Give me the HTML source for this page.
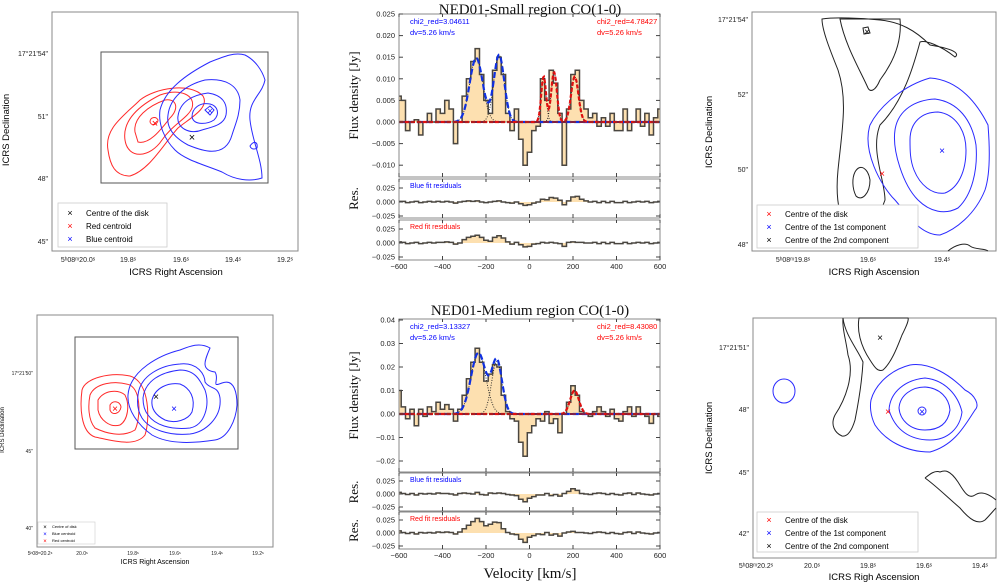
<!DOCTYPE html>
<html><head><meta charset="utf-8"><style>
body{margin:0;background:#fff;}
svg{display:block;font-family:"Liberation Sans",sans-serif;}
.serif{font-family:"Liberation Serif",serif;}
</style></head><body>
<svg id="fig" width="1000" height="582" viewBox="0 0 1000 582" xmlns="http://www.w3.org/2000/svg">
<!-- ===== Top-left map ===== -->
<g>
<rect x="52" y="12" width="246" height="239" fill="none" stroke="#888" stroke-width="1"/>
<rect x="101" y="52" width="167" height="131" fill="none" stroke="#555" stroke-width="1"/>
<g fill="none" stroke="#ff2a2a" stroke-width="1">
<path d="M108,150 C104,128 125,115 140,100 C155,88 190,82 203,96 C210,108 190,118 178,128 C165,142 150,170 130,176 C115,176 110,165 108,150Z"/>
<path d="M125,140 C122,120 140,105 160,95 C180,88 196,95 192,108 C188,118 172,125 162,140 C150,158 128,160 125,140Z"/>
<path d="M135,132 C133,118 148,106 165,100 C176,98 180,108 170,118 C162,128 150,145 138,142Z"/>
<path d="M150,122 C150,117 156,116 158,120 C158,124 152,127 150,122Z"/>
</g>
<g fill="none" stroke="#2a2aff" stroke-width="1">
<path d="M160,110 C165,90 185,75 210,62 C225,56 235,52 245,55 C255,60 262,70 265,80 C262,95 248,100 250,120 C252,140 262,160 262,178 C250,182 235,180 222,172 C205,165 185,160 175,150 C165,140 158,125 160,110Z"/>
<path d="M168,115 C170,98 185,85 205,80 C225,78 238,85 240,100 C240,115 235,125 232,135 C225,160 200,150 188,145 C175,138 166,128 168,115Z"/>
<path d="M178,116 C180,102 192,95 208,93 C222,95 228,103 226,115 C224,125 212,127 202,130 C190,135 176,128 178,116Z"/>
<path d="M192,117 C192,108 200,102 210,104 C218,106 220,114 214,120 C208,124 194,126 192,117Z"/>
<path d="M205,110 L210,106 L214,110 L210,115Z"/>
<path d="M250,146 C254,140 258,142 257,148 C254,150 251,149 250,146Z"/>
</g>
<text x="192" y="141" font-size="11" text-anchor="middle">×</text>
<text x="155" y="127" font-size="11" fill="#f00" text-anchor="middle">×</text>
<text x="210" y="114" font-size="9" fill="#00f" text-anchor="middle">×</text>
<g font-size="7" fill="#222">
<text x="48" y="56" text-anchor="end">17°21'54"</text><text x="48" y="119" text-anchor="end">51"</text>
<text x="48" y="181" text-anchor="end">48"</text><text x="48" y="244" text-anchor="end">45"</text></g>
<g font-size="7" fill="#222" text-anchor="middle">
<text x="78" y="262">5ʰ08ᵐ20.0ˢ</text><text x="128" y="262">19.8ˢ</text><text x="181" y="262">19.6ˢ</text><text x="233" y="262">19.4ˢ</text><text x="285" y="262">19.2ˢ</text></g>
<text x="176" y="275" font-size="9.5" text-anchor="middle">ICRS Right Ascension</text>
<text transform="translate(9,130) rotate(-90)" font-size="9.5" text-anchor="middle">ICRS Declination</text>
<g>
<rect x="58" y="203" width="109" height="44" fill="#fff" stroke="#ccc" stroke-width="0.8"/>
<text x="70" y="216" font-size="9" text-anchor="middle">×</text><text x="86" y="216" font-size="8">Centre of the disk</text>
<text x="70" y="229" font-size="9" fill="#f00" text-anchor="middle">×</text><text x="86" y="229" font-size="8">Red centroid</text>
<text x="70" y="242" font-size="9" fill="#00f" text-anchor="middle">×</text><text x="86" y="242" font-size="8">Blue centroid</text>
</g>
</g>

<!-- ===== Bottom-left map ===== -->
<g>
<rect x="37" y="315" width="236" height="232" fill="none" stroke="#888" stroke-width="1"/>
<rect x="75" y="337" width="163" height="112" fill="none" stroke="#555" stroke-width="1"/>
<g fill="none" stroke="#ff2a2a" stroke-width="1">
<path d="M82,390 C85,378 110,372 130,376 C150,382 150,420 145,435 C135,448 110,440 95,437 C80,432 80,405 82,390Z"/>
<path d="M90,395 C95,383 115,380 130,385 C142,392 140,420 135,430 C122,438 105,433 95,428 C88,420 88,405 90,395Z"/>
<path d="M98,400 C104,390 118,389 125,395 C130,405 128,420 120,425 C110,428 100,420 98,410Z"/>
<path d="M110,405 C113,400 120,401 121,407 C120,414 112,416 110,410Z"/>
</g>
<g fill="none" stroke="#2a2aff" stroke-width="1">
<path d="M128,395 C130,370 160,355 180,350 C190,346 200,342 210,348 C205,360 200,370 215,372 C220,380 210,388 222,383 C235,378 237,395 237,405 C236,420 228,438 215,440 C195,443 170,445 152,435 C138,425 127,410 128,395Z"/>
<path d="M138,395 C140,375 162,365 180,364 C198,362 205,375 205,382 C210,390 218,385 220,398 C222,418 205,432 190,434 C170,436 150,430 142,418 C137,410 137,402 138,395Z"/>
<path d="M143,398 C145,380 162,372 180,370 C195,370 200,380 205,390 C210,405 205,425 190,428 C170,430 155,425 148,415 C144,410 143,404 143,398Z"/>
<path d="M152,400 C155,388 168,382 180,384 C190,388 196,398 192,412 C188,420 175,424 165,420 C155,415 151,408 152,400Z"/>
</g>
<text x="156" y="400" font-size="10" text-anchor="middle">×</text>
<text x="115" y="412" font-size="10" fill="#f00" text-anchor="middle">×</text>
<text x="174" y="412" font-size="10" fill="#00f" text-anchor="middle">×</text>
<g font-size="5" fill="#222">
<text x="33" y="375" text-anchor="end">17°21'50"</text><text x="33" y="453" text-anchor="end">45"</text><text x="33" y="530" text-anchor="end">40"</text></g>
<g font-size="5" fill="#222" text-anchor="middle">
<text x="40" y="555">5ʰ08ᵐ20.2ˢ</text><text x="82" y="555">20.0ˢ</text><text x="133" y="555">19.8ˢ</text><text x="175" y="555">19.6ˢ</text><text x="217" y="555">19.4ˢ</text><text x="258" y="555">19.2ˢ</text></g>
<text x="155" y="564" font-size="7" text-anchor="middle">ICRS Right Ascension</text>
<text transform="translate(4,430) rotate(-90)" font-size="6" text-anchor="middle">ICRS Declination</text>
<g>
<rect x="38" y="522" width="57" height="22" fill="#fff" stroke="#ccc" stroke-width="0.6"/>
<text x="45" y="529" font-size="6" text-anchor="middle">×</text><text x="52" y="528" font-size="4">Centre of disk</text>
<text x="45" y="536" font-size="6" fill="#00f" text-anchor="middle">×</text><text x="52" y="535" font-size="4">Blue centroid</text>
<text x="45" y="543" font-size="6" fill="#f00" text-anchor="middle">×</text><text x="52" y="542" font-size="4">Red centroid</text>
</g>
</g>

<!-- ===== Top-right map ===== -->
<g>
<rect x="752" y="12" width="244" height="239" fill="none" stroke="#888" stroke-width="1"/>
<g fill="none" stroke="#222" stroke-width="1">
<path d="M822,19 C835,17 860,18 880,20 C900,22 915,30 930,45 C960,50 958,55 955,57 C940,45 925,40 920,42 C915,60 905,100 880,125 C870,150 885,180 885,200 C880,215 870,230 855,232 C840,230 835,200 838,170 C842,130 848,100 838,70 C830,50 822,30 822,19Z"/>
<path d="M840,19 L900,19 C902,40 895,60 880,80 C875,92 870,92 868,88 C860,70 845,45 840,19Z"/>
<path d="M863,28 L868,27 L870,33 L864,34Z"/>
<path d="M855,172 C860,163 868,168 870,180 C870,193 862,202 856,196 C852,188 852,178 855,172Z"/>
<path d="M948,251 C955,245 965,242 970,246 C975,250 985,248 988,251"/>
</g>
<g fill="none" stroke="#2a2aff" stroke-width="1">
<path d="M870,125 C880,105 905,85 930,78 C960,80 978,105 988,125 C990,150 990,175 985,190 C975,215 955,230 940,235 C920,235 908,215 895,200 C880,185 862,150 870,125Z"/>
<path d="M895,130 C898,110 915,100 935,99 C958,102 972,120 976,145 C978,170 972,195 958,208 C945,215 930,212 918,200 C903,185 892,150 895,130Z"/>
<path d="M910,140 C910,122 922,112 938,112 C955,114 966,130 966,150 C966,172 958,188 945,193 C932,195 920,185 914,170 C910,160 910,150 910,140Z"/>
</g>
<text x="882" y="177" font-size="10" fill="#f00" text-anchor="middle">×</text>
<text x="942" y="154" font-size="10" fill="#00f" text-anchor="middle">×</text>
<text x="867" y="35" font-size="10" text-anchor="middle">×</text>
<g font-size="7" fill="#222">
<text x="748" y="22" text-anchor="end">17°21'54"</text><text x="748" y="97" text-anchor="end">52"</text>
<text x="748" y="172" text-anchor="end">50"</text><text x="748" y="247" text-anchor="end">48"</text></g>
<g font-size="7" fill="#222" text-anchor="middle">
<text x="793" y="262">5ʰ08ᵐ19.8ˢ</text><text x="868" y="262">19.6ˢ</text><text x="942" y="262">19.4ˢ</text></g>
<text x="874" y="275" font-size="9.5" text-anchor="middle">ICRS Righ Ascension</text>
<text transform="translate(712,132) rotate(-90)" font-size="9.5" text-anchor="middle">ICRS Declination</text>
<g>
<rect x="757" y="205" width="161" height="43" fill="#fff" stroke="#ccc" stroke-width="0.8"/>
<text x="769" y="217" font-size="9" fill="#f00" text-anchor="middle">×</text><text x="785" y="217" font-size="8">Centre of the disk</text>
<text x="769" y="230" font-size="9" fill="#00f" text-anchor="middle">×</text><text x="785" y="230" font-size="8">Centre of the 1st component</text>
<text x="769" y="243" font-size="9" text-anchor="middle">×</text><text x="785" y="243" font-size="8">Centre of the 2nd component</text>
</g>
</g>

<!-- ===== Bottom-right map ===== -->
<g>
<rect x="753" y="318" width="243" height="240" fill="none" stroke="#888" stroke-width="1"/>
<g fill="none" stroke="#222" stroke-width="1">
<path d="M843,318 C845,335 858,350 863,362 C862,380 858,405 855,420 C852,430 848,437 842,436 C835,433 830,425 835,415 C845,400 855,375 848,355 C846,340 842,328 843,318Z"/>
<path d="M859,318 C857,330 860,345 870,360 C875,368 878,372 883,370 C892,362 898,345 902,335 C907,325 909,320 908,318Z"/>
<path d="M925,478 C930,474 935,470 940,472 C945,470 950,470 958,482 C963,490 968,500 975,495 C982,490 990,495 996,500 M925,478 C935,485 945,495 960,508 C970,520 978,525 985,520 C990,515 994,510 996,508"/>
</g>
<g fill="none" stroke="#2a2aff" stroke-width="1">
<path d="M871,400 C875,385 890,370 910,365 C930,362 950,375 965,390 C975,395 980,405 975,410 C965,425 955,445 930,452 C905,452 885,440 875,425 C870,415 870,405 871,400Z"/>
<path d="M889,410 C890,392 905,380 925,378 C945,380 958,395 962,412 C960,428 948,440 930,440 C910,440 895,430 889,410Z"/>
<path d="M899,408 C900,395 912,387 925,387 C940,388 949,398 950,410 C948,423 940,430 925,430 C910,430 900,420 899,408Z"/>
<circle cx="922" cy="411" r="4"/>
<ellipse cx="784" cy="391" rx="11" ry="12"/>
</g>
<text x="888" y="415" font-size="10" fill="#f00" text-anchor="middle">×</text>
<text x="922" y="415" font-size="10" fill="#00f" text-anchor="middle">×</text>
<text x="880" y="341" font-size="10" text-anchor="middle">×</text>
<g font-size="7" fill="#222">
<text x="749" y="350" text-anchor="end">17°21'51"</text><text x="749" y="412" text-anchor="end">48"</text>
<text x="749" y="475" text-anchor="end">45"</text><text x="749" y="536" text-anchor="end">42"</text></g>
<g font-size="7" fill="#222" text-anchor="middle">
<text x="756" y="568">5ʰ08ᵐ20.2ˢ</text><text x="812" y="568">20.0ˢ</text><text x="868" y="568">19.8ˢ</text><text x="924" y="568">19.6ˢ</text><text x="980" y="568">19.4ˢ</text></g>
<text x="874" y="580" font-size="9.5" text-anchor="middle">ICRS Righ Ascension</text>
<text transform="translate(712,438) rotate(-90)" font-size="9.5" text-anchor="middle">ICRS Declination</text>
<g>
<rect x="757" y="512" width="161" height="40" fill="#fff" stroke="#ccc" stroke-width="0.8"/>
<text x="769" y="523" font-size="9" fill="#f00" text-anchor="middle">×</text><text x="785" y="523" font-size="8">Centre of the disk</text>
<text x="769" y="536" font-size="9" fill="#00f" text-anchor="middle">×</text><text x="785" y="536" font-size="8">Centre of the 1st component</text>
<text x="769" y="549" font-size="9" text-anchor="middle">×</text><text x="785" y="549" font-size="8">Centre of the 2nd component</text>
</g>
</g>
</svg>
<script>
// velocity grid: -600..600 step 20 km/s (61 bins); flux values in mJy
const velStart = -600, velStep = 20;
const smallFlux = [6,5,-2,0,0.5,-3,0,2,0,3,2,5,3,-5,0,6,10,14,17,11,5,2,12,15,11,2,-2,3,-4,-10,-7,-2,-1,10,5,12,9,2,-10,3,11,12,5,3,1,2,-1,1,-1,2,-2,-2,3,-2,0,3,-1,2,-3,1,3];
const smallBlueRes = [1,1,-1,0,1,-1,0,1,0,1,0,1,0,-2,0,1,2,1,2,0,-1,0,1,2,0,-1,-2,0,-3,-6,-5,-2,0,5,4,8,7,3,-5,2,9,10,5,2,0,1,-1,1,-1,1,-1,-1,1,-1,0,1,0,1,-1,0,1];
const smallRedRes = [2,1,-1,0,1,-1,0,1,0,1,1,2,1,-2,0,6,10,12,14,10,5,3,10,13,9,2,-2,1,-3,-7,-6,-2,-1,1,0,1,0,-1,-6,1,2,1,1,0,0,1,-1,1,-1,1,-1,-1,1,-1,0,1,0,1,-1,0,1];
const medFlux = [10,3,-2,2,-5,2,-1,3,1,5,2,4,2,-3,2,8,15,22,28,22,14,17,21,20,8,1,-2,-3,-12,-18,-8,-5,-2,-3,1,-4,-2,-8,0,5,12,8,1,0,-1,1,3,1,-1,2,-2,-3,1,3,-1,3,0,-1,-4,0,-1];
const medBlueRes = [3,1,-1,1,-2,1,0,1,0,2,1,1,0,-2,1,2,1,0,3,-1,-2,2,1,2,1,-1,-2,-3,-10,-15,-8,-5,-2,-2,1,-3,-1,-4,1,5,10,7,1,0,-1,1,2,1,-1,1,-1,-2,1,2,-1,2,0,-1,-2,0,1];
const medRedRes = [4,1,-1,1,-2,1,0,1,0,2,1,2,1,-2,2,8,15,22,28,22,14,17,21,20,8,1,-2,-3,-12,-18,-8,-5,-2,-3,1,-4,-2,-6,0,2,3,1,1,0,-1,1,2,1,-1,1,-1,-2,1,2,-1,2,0,-1,-2,0,1];
// Gaussian fit components: amplitude (mJy), centre (km/s), sigma (km/s)
const smallBlueAmp = [14.8,15.5], smallBlueCen = [-245,-140], smallBlueSig = [30,24];
const smallRedAmp = [10.5,11.5,10.5], smallRedCen = [65,113,208], smallRedSig = [11,13,17];
const medBlueAmp = [26,22.5], medBlueCen = [-235,-150], medBlueSig = [34,24];
const medRedAmp = [10], medRedCen = [207], medRedSig = [20];
const velTicks = [-600,-400,-200,0,200,400,600];
const smallFluxTicks = [-0.010,-0.005,0.000,0.005,0.010,0.015,0.020,0.025];
const medFluxTicks = [-0.02,-0.01,0.00,0.01,0.02,0.03,0.04];
const resTicks = [-0.025,0.000,0.025];

const NS="http://www.w3.org/2000/svg";
const svg=document.getElementById('fig');
function mk(tag,attrs,parent){const e=document.createElementNS(NS,tag);for(const k in attrs)e.setAttribute(k,attrs[k]);(parent||svg).appendChild(e);return e;}
const X0=399,X1=660;
function xv(v){return X0+(v+600)*(X1-X0)/1200;}
function gauss(a,c,s,v){let y=0;for(let i=0;i<a.length;i++)y+=a[i]*Math.exp(-0.5*Math.pow((v-c[i])/s[i],2));return y;}

function stepPath(vals,ymap){let d='';for(let i=0;i<vals.length;i++){const vc=velStart+i*velStep;const xa=xv(Math.max(-600,vc-velStep/2)),xb=xv(Math.min(600,vc+velStep/2));const y=ymap(vals[i]/1000);d+=(i===0?'M':'L')+xa.toFixed(1)+','+y.toFixed(1)+'L'+xb.toFixed(1)+','+y.toFixed(1);}return d;}

function axes(g,top,bot,ymap,ticks,fmt,showX){
  const f=mk('rect',{x:X0,y:top,width:X1-X0,height:bot-top,fill:'none',stroke:'#888','stroke-width':1},g);
  
  
  ticks.forEach(t=>{const y=ymap(t);
    mk('line',{x1:X0,x2:X0+4,y1:y,y2:y,stroke:'#444'},g);mk('line',{x1:X1-4,x2:X1,y1:y,y2:y,stroke:'#444'},g);
    const tx=mk('text',{x:X0-4,y:y+2.5,'font-size':7.5,'text-anchor':'end',fill:'#222'},g);tx.textContent=fmt(t);
    
    
  });
  velTicks.forEach(v=>{const x=xv(v);mk('line',{x1:x,x2:x,y1:bot-4,y2:bot,stroke:'#444'},g);mk('line',{x1:x,x2:x,y1:top,y2:top+3,stroke:'#444'},g);
    if(showX){const tx=mk('text',{x:x,y:bot+9,'font-size':7.5,'text-anchor':'middle',fill:'#222'},g);tx.textContent=(v<0?'\u2212'+(-v):v);
      
      }
  });
}
function spectrum(g,vals,ymap,name){
  const d=stepPath(vals,ymap);const y0=ymap(0);
  const fill=mk('path',{d:d+'L'+X1+','+y0+'L'+X0+','+y0+'Z',fill:'#fde0b0',stroke:'none'},g);
  
  
  const ln=mk('path',{d:d,fill:'none',stroke:'#4a4640','stroke-width':1.5},g);
  
  
}
function fitLine(g,amp,cen,sig,ymap,color,dash,w,name){
  let d='';for(let v=-600;v<=600;v+=3){d+=(v===-600?'M':'L')+xv(v).toFixed(1)+','+ymap(gauss(amp,cen,sig,v)/1000).toFixed(1);}
  const p=mk('path',{d:d,fill:'none',stroke:color,'stroke-width':w,'stroke-dasharray':dash},g);
  
  
}
function label(g,x,y,txt,size,color,name,cls,rot){
  const t=mk('text',{x:x,y:y,'font-size':size,fill:color},g);
  if(cls)t.setAttribute('class',cls);
  if(rot){t.setAttribute('transform','rotate(-90 '+x+' '+y+')');t.setAttribute('text-anchor','middle');}
  t.textContent=txt;
  
  
  return t;
}
function panel(cfg){
  const g=mk('g',{});
  
  
  const ym=v=>cfg.mz-v*cfg.ms, r1=v=>cfg.r1z-v*cfg.rs, r2=v=>cfg.r2z-v*cfg.rs;
  spectrum(g,cfg.flux,ym,'spectrum');
  mk('line',{x1:X0,x2:X1,y1:ym(0),y2:ym(0),stroke:'#1a1aa0','stroke-width':2,'stroke-dasharray':'6,3'},g);
  [[cfg.bA,cfg.bC,cfg.bS],[cfg.rA,cfg.rC,cfg.rS]].forEach(s=>{for(let i=0;i<s[0].length;i++)fitLine(g,[s[0][i]],[s[1][i]],[s[2][i]],ym,'#222','1,1.5',0.9,'fit-component');});
  fitLine(g,cfg.bA,cfg.bC,cfg.bS,ym,'#1030e0','6,3',2.2,'blue-fit');
  fitLine(g,cfg.rA,cfg.rC,cfg.rS,ym,'#e01010','4,2',2.2,'red-fit');
  const zl=mk('line',{x1:X0,x2:X1,y1:ym(0),y2:ym(0),stroke:'#a02020','stroke-width':1.6,'stroke-dasharray':'6,3'},g);
  
  
  axes(g,cfg.mt,cfg.mb,ym,cfg.ticks,cfg.fmt,false);
  spectrum(g,cfg.br,r1,'blue-residuals');
  axes(g,cfg.r1t,cfg.r1b,r1,resTicks,t=>t===0?'0.000':(t<0?'\u22120.025':'0.025'),false);
  spectrum(g,cfg.rr,r2,'red-residuals');
  axes(g,cfg.r2t,cfg.r2b,r2,resTicks,t=>t===0?'0.000':(t<0?'\u22120.025':'0.025'),true);
  label(g,410,cfg.mt+10,cfg.bchi,7.5,'#0000ff','blue-chi2-label');
  label(g,410,cfg.mt+21,'dv=5.26 km/s',7.5,'#0000ff','blue-dv-label');
  label(g,597,cfg.mt+10,cfg.rchi,7.5,'#ff0000','red-chi2-label');
  label(g,597,cfg.mt+21,'dv=5.26 km/s',7.5,'#ff0000','red-dv-label');
  label(g,410,cfg.r1t+9,'Blue fit residuals',7,'#0000ff','blue-residuals-label');
  label(g,410,cfg.r2t+9,'Red fit residuals',7,'#ff0000','red-residuals-label');
  const tt=label(g,530,cfg.ty,cfg.title,15,'#111','chart-title','serif');tt.setAttribute('text-anchor','middle');
  label(g,358,(cfg.mt+cfg.mb)/2,'Flux density [Jy]',13,'#111','y-axis-title','serif',true);
  label(g,358,(cfg.r1t+cfg.r1b)/2,'Res.',13,'#111','residual-axis-title','serif',true);
  if(cfg.res2lab)label(g,358,(cfg.r2t+cfg.r2b)/2,'Res.',13,'#111','residual-axis-title','serif',true);
  if(cfg.vlab){const v=label(g,530,cfg.vy,'Velocity [km/s]',15,'#111','x-axis-title','serif');v.setAttribute('text-anchor','middle');}
}
panel({name:'spectrum-small-region',flux:smallFlux,br:smallBlueRes,rr:smallRedRes,
  bA:smallBlueAmp,bC:smallBlueCen,bS:smallBlueSig,rA:smallRedAmp,rC:smallRedCen,rS:smallRedSig,
  mt:14,mb:177,mz:122,ms:4320,ticks:smallFluxTicks,fmt:t=>(t<0?'\u2212':'')+Math.abs(t).toFixed(3),
  r1t:179,r1b:218,r1z:202,rs:560,r2t:220,r2b:260,r2z:243,
  bchi:'chi2_red=3.04611',rchi:'chi2_red=4.78427',title:'NED01-Small region CO(1-0)',ty:14,res2lab:false,vlab:false});
panel({name:'spectrum-medium-region',flux:medFlux,br:medBlueRes,rr:medRedRes,
  bA:medBlueAmp,bC:medBlueCen,bS:medBlueSig,rA:medRedAmp,rC:medRedCen,rS:medRedSig,
  mt:319,mb:472,mz:414,ms:2350,ticks:medFluxTicks,fmt:t=>(t<0?'\u2212':'')+Math.abs(t).toFixed(2),
  r1t:473,r1b:511,r1z:494,rs:520,r2t:512,r2b:549,r2z:533,
  bchi:'chi2_red=3.13327',rchi:'chi2_red=8.43080',title:'NED01-Medium region CO(1-0)',ty:315,res2lab:true,vlab:true,vy:578});
</script>
</body></html>
